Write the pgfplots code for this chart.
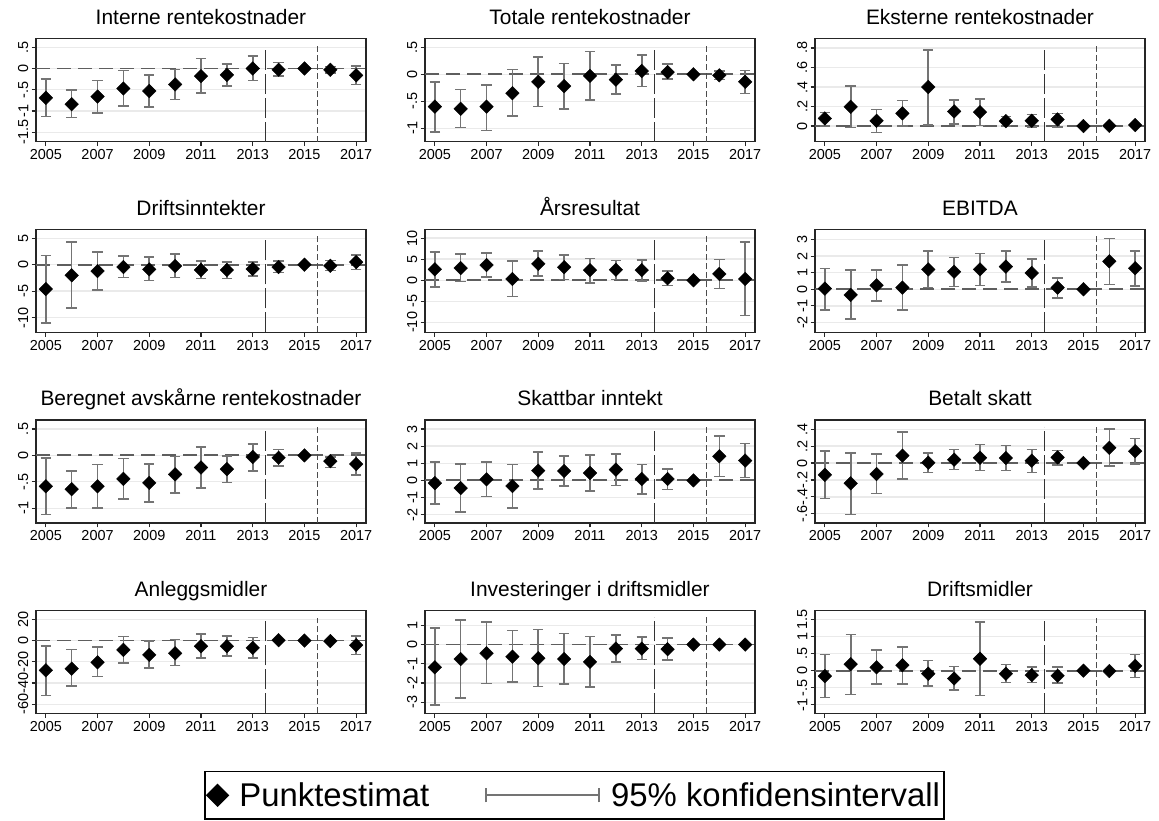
\documentclass[border=0pt]{standalone}
\usepackage{fontspec}
\setmainfont{Liberation Sans}
\usepackage{pgfplots}
\usepackage{pgfplotstable}
\pgfplotsset{compat=1.18}

\definecolor{cigray}{HTML}{747474}
\definecolor{gridc}{HTML}{EAEAEA}
\definecolor{zeroc}{HTML}{5E5E5E}
\definecolor{framec}{HTML}{262626}

\pgfplotstableread{
yr pt lo hi
2005 -0.69 -1.13 -0.25
2006 -0.84 -1.15 -0.51
2007 -0.66 -1.05 -0.28
2008 -0.47 -0.88 -0.05
2009 -0.53 -0.91 -0.16
2010 -0.375 -0.73 -0.02
2011 -0.18 -0.58 0.23
2012 -0.15 -0.41 0.11
2013 0.00 -0.28 0.30
2014 -0.03 -0.17 0.14
2015 0 0 0
2016 -0.03 -0.10 0.05
2017 -0.16 -0.38 0.06
}\tA
\pgfplotstableread{
yr pt lo hi
2005 -0.60 -1.07 -0.14
2006 -0.64 -0.99 -0.28
2007 -0.60 -1.04 -0.20
2008 -0.35 -0.77 0.09
2009 -0.14 -0.60 0.32
2010 -0.22 -0.64 0.20
2011 -0.03 -0.48 0.42
2012 -0.10 -0.37 0.17
2013 0.06 -0.23 0.36
2014 0.04 -0.09 0.19
2015 0 0 0
2016 -0.02 -0.10 0.06
2017 -0.14 -0.36 0.07
}\tB
\pgfplotstableread{
yr pt lo hi
2005 0.078 0.00 0.14
2006 0.197 -0.014 0.41
2007 0.054 -0.065 0.17
2008 0.13 0.00 0.26
2009 0.40 0.014 0.78
2010 0.15 0.02 0.27
2011 0.143 0.007 0.28
2012 0.05 0.00 0.10
2013 0.054 -0.01 0.12
2014 0.068 -0.007 0.13
2015 0 0 0
2016 0.003 0.0 0.006
2017 0.01 0.0 0.02
}\tC
\pgfplotstableread{
yr pt lo hi
2005 -4.6 -11.0 1.76
2006 -2.0 -8.2 4.27
2007 -1.2 -4.8 2.45
2008 -0.44 -2.45 1.6
2009 -0.88 -3.0 1.5
2010 -0.25 -2.4 2.0
2011 -1.0 -2.6 0.7
2012 -1.0 -2.57 0.5
2013 -0.8 -2.1 0.56
2014 -0.44 -1.5 0.7
2015 0 0 0
2016 -0.2 -1.1 0.8
2017 0.5 -0.88 1.8
}\tD
\pgfplotstableread{
yr pt lo hi
2005 2.6 -1.6 6.7
2006 2.9 -0.3 6.3
2007 3.6 0.8 6.5
2008 0.3 -3.9 4.6
2009 3.9 1.0 6.9
2010 3.1 0.2 6.0
2011 2.4 -0.6 5.2
2012 2.5 0.2 4.7
2013 2.4 -0.2 4.8
2014 0.47 -1.2 2.2
2015 0 0 0
2016 1.5 -2.0 4.9
2017 0.3 -8.4 9.1
}\tE
\pgfplotstableread{
yr pt lo hi
2005 0.04 -1.25 1.25
2006 -0.34 -1.8 1.18
2007 0.24 -0.7 1.18
2008 0.1 -1.26 1.47
2009 1.2 0.1 2.3
2010 1.06 0.16 1.93
2011 1.2 0.22 2.17
2012 1.37 0.44 2.3
2013 0.98 0.12 1.83
2014 0.1 -0.52 0.68
2015 0 0 0
2016 1.69 0.3 3.07
2017 1.27 0.2 2.3
}\tF
\pgfplotstableread{
yr pt lo hi
2005 -0.585 -1.12 -0.05
2006 -0.64 -1.0 -0.29
2007 -0.585 -1.0 -0.17
2008 -0.445 -0.83 -0.06
2009 -0.52 -0.88 -0.165
2010 -0.36 -0.71 -0.02
2011 -0.23 -0.62 0.16
2012 -0.26 -0.51 -0.006
2013 -0.03 -0.30 0.22
2014 -0.045 -0.2 0.11
2015 0 0 0
2016 -0.11 -0.23 -0.025
2017 -0.165 -0.375 0.045
}\tG
\pgfplotstableread{
yr pt lo hi
2005 -0.16 -1.39 1.08
2006 -0.45 -1.86 0.96
2007 0.06 -0.94 1.06
2008 -0.33 -1.6 0.94
2009 0.57 -0.49 1.67
2010 0.55 -0.33 1.43
2011 0.43 -0.63 1.47
2012 0.63 -0.31 1.55
2013 0.08 -0.78 0.94
2014 0.08 -0.53 0.67
2015 0 0 0
2016 1.41 0.22 2.61
2017 1.16 0.16 2.16
}\tH
\pgfplotstableread{
yr pt lo hi
2005 -0.14 -0.42 0.14
2006 -0.24 -0.61 0.12
2007 -0.13 -0.36 0.11
2008 0.087 -0.19 0.37
2009 0.004 -0.11 0.12
2010 0.04 -0.075 0.16
2011 0.063 -0.09 0.22
2012 0.06 -0.09 0.21
2013 0.028 -0.11 0.16
2014 0.067 -0.024 0.15
2015 0 0 0
2016 0.18 -0.036 0.40
2017 0.14 -0.008 0.29
}\tI
\pgfplotstableread{
yr pt lo hi
2005 -28 -51.7 -5
2006 -26.5 -43 -8.5
2007 -20.5 -34 -6
2008 -8.8 -21.4 3.8
2009 -13.5 -26 -0.3
2010 -12 -23.6 1
2011 -5.4 -16.7 6.3
2012 -5.4 -14.5 4.1
2013 -6.9 -16.4 2.8
2014 0.3 -0.5 1
2015 0 0 0
2016 -0.5 -1 0
2017 -4.4 -13 4.4
}\tJ
\pgfplotstableread{
yr pt lo hi
2005 -1.18 -3.15 0.85
2006 -0.75 -2.77 1.29
2007 -0.45 -2.03 1.17
2008 -0.63 -1.93 0.73
2009 -0.71 -2.17 0.78
2010 -0.75 -2.05 0.57
2011 -0.9 -2.2 0.42
2012 -0.21 -0.9 0.49
2013 -0.21 -0.77 0.38
2014 -0.24 -0.8 0.33
2015 0 0 0
2016 0 0 0
2017 0 0 0
}\tK
\pgfplotstableread{
yr pt lo hi
2005 -0.16 -0.79 0.48
2006 0.19 -0.70 1.06
2007 0.10 -0.40 0.61
2008 0.16 -0.39 0.70
2009 -0.09 -0.45 0.30
2010 -0.23 -0.57 0.12
2011 0.35 -0.73 1.43
2012 -0.09 -0.35 0.18
2013 -0.13 -0.35 0.11
2014 -0.15 -0.37 0.10
2015 0 0 0
2016 -0.01 -0.03 0.01
2017 0.14 -0.20 0.47
}\tL

\pgfplotsset{
  panel/.style={
    scale only axis, width=330bp, height=103bp, anchor=south west,
    xmin=2004.62, xmax=2017.38,
    xtick={2005,2007,...,2017},
    xticklabels={2005,2007,2009,2011,2013,2015,2017},
    xtick pos=bottom, ytick pos=left, tick align=outside,
    major tick length=4.5bp,
    tick style={draw=framec, line width=1.2bp},
    axis line style={draw=framec, line width=1.4bp},
    ymajorgrids, grid style={draw=gridc, line width=1.4bp},
    ticklabel style={font=\fontsize{14.5}{16}\selectfont},
    yticklabel style={rotate=90, anchor=south, inner sep=3bp},
    xticklabel style={inner sep=3bp},
    title style={font=\fontsize{21}{24}\selectfont, at={(0.5,1)}, anchor=base, yshift=8.3bp},
  },
  ci/.style={only marks, mark=none,
    legend image code/.code={\draw[cigray, line width=1.8bp] (0bp,0bp) -- (113bp,0bp) (0bp,-7bp) -- (0bp,7bp) (113bp,-7bp) -- (113bp,7bp);},
    error bars/.cd, y dir=both, y explicit,
    error bar style={cigray, line width=1.6bp},
    error mark options={cigray, line width=1.6bp, mark size=5.2bp, rotate=90}},
  pt/.style={only marks, mark=square*, mark size=4.8bp,
    mark options={rotate=45, fill=black, draw=black},
    legend image code/.code={\draw[black, fill=black, mark=square*, mark size=7.6bp, mark options={rotate=45}] plot coordinates {(0bp,0bp)};}},
}
\tikzset{
  zeroline/.style={draw=zeroc, line width=1.8bp, dash pattern=on 14bp off 7bp},
  vlong/.style={draw=black!80, line width=1.5bp, dash pattern=on 20bp off 4bp},
  vshort/.style={draw=black!70, line width=1.5bp, dash pattern=on 6bp off 3bp},
}

% #1 x, #2 y, #3 title, #4 table, #5 ymin, #6 ymax, #7 yticks, #8 ylabels, #9 extra
\newcommand{\panel}[9]{%
\begin{axis}[panel, at={(#1,#2)}, title={#3}, ymin=#5, ymax=#6, ytick={#7}, yticklabels={#8}, #9]
  \draw[zeroline] ({rel axis cs:0,0}|-{axis cs:2010,0}) -- ({rel axis cs:1,0}|-{axis cs:2010,0});
  \addplot[ci] table[x=yr, y=pt, y error plus expr=\thisrow{hi}-\thisrow{pt}, y error minus expr=\thisrow{pt}-\thisrow{lo}] {#4};
  \addplot[pt] table[x=yr, y=pt] {#4};
  \draw[vlong] ({axis cs:2013.5,0}|-{rel axis cs:0,0}) -- ({axis cs:2013.5,0}|-{rel axis cs:0,0.932});
  \draw[vshort] ({axis cs:2015.5,0}|-{rel axis cs:0,0}) -- ({axis cs:2015.5,0}|-{rel axis cs:0,0.932});
\end{axis}}

\begin{document}
\begin{tikzpicture}
\path[use as bounding box] (0,0) rectangle (1159bp,821bp);
\panel{36bp}{679.3bp}{Interne rentekostnader}{\tA}{-1.72}{0.70}{-1.5,-1,-0.5,0,0.5}{-1.5,-1,-.5,0,.5}{}
\panel{425bp}{679.3bp}{Totale rentekostnader}{\tB}{-1.25}{0.66}{-1,-0.5,0,0.5}{-1,-.5,0,.5}{}
\panel{815bp}{679.3bp}{Eksterne rentekostnader}{\tC}{-0.16}{0.895}{0,0.2,0.4,0.6,0.8}{0,.2,.4,.6,.8}{}
\panel{36bp}{488.5bp}{Driftsinntekter}{\tD}{-12.8}{6.65}{-10,-5,0,5}{-10,-5,0,5}{}
\panel{425bp}{488.5bp}{Årsresultat}{\tE}{-12.4}{12.05}{-10,-5,0,5,10}{-10,-5,0,5,10}{}
\panel{815bp}{488.5bp}{EBITDA}{\tF}{-2.61}{3.61}{-2,-1,0,1,2,3}{-2,-1,0,1,2,3}{}
\panel{36bp}{298bp}{Beregnet avskårne rentekostnader}{\tG}{-1.28}{0.67}{-1,-0.5,0,0.5}{-1,-.5,0,.5}{}
\panel{425bp}{298bp}{Skattbar inntekt}{\tH}{-2.49}{3.53}{-2,-1,0,1,2,3}{-2,-1,0,1,2,3}{}
\panel{815bp}{298bp}{Betalt skatt}{\tI}{-0.71}{0.51}{-0.6,-0.4,-0.2,0,0.2,0.4}{-.6,-.4,-.2,0,.2,.4}{}
\panel{36bp}{107.5bp}{Anleggsmidler}{\tJ}{-68.7}{28.3}{-60,-40,-20,0,20}{-60,-40,-20,0,20}{}
\panel{425bp}{107.5bp}{Investeringer i driftsmidler}{\tK}{-3.58}{1.77}{-3,-2,-1,0,1}{-3,-2,-1,0,1}{legend entries={95\% konfidensintervall,Punktestimat}, reverse legend, legend columns=2,
  legend style={at={(0.453,-0.558)}, anchor=north, draw=black, line width=1.3bp,
    font=\fontsize{33}{38}\selectfont, inner xsep=2bp, inner ysep=9bp,
    /tikz/every odd column/.append style={column sep=9bp},
    /tikz/every even column/.append style={column sep=54bp}}}
\panel{815bp}{107.5bp}{Driftsmidler}{\tL}{-1.26}{1.77}{-1,-0.5,0,0.5,1,1.5}{-1,-.5,0,.5,1,1.5}{}
\end{tikzpicture}
\end{document}
